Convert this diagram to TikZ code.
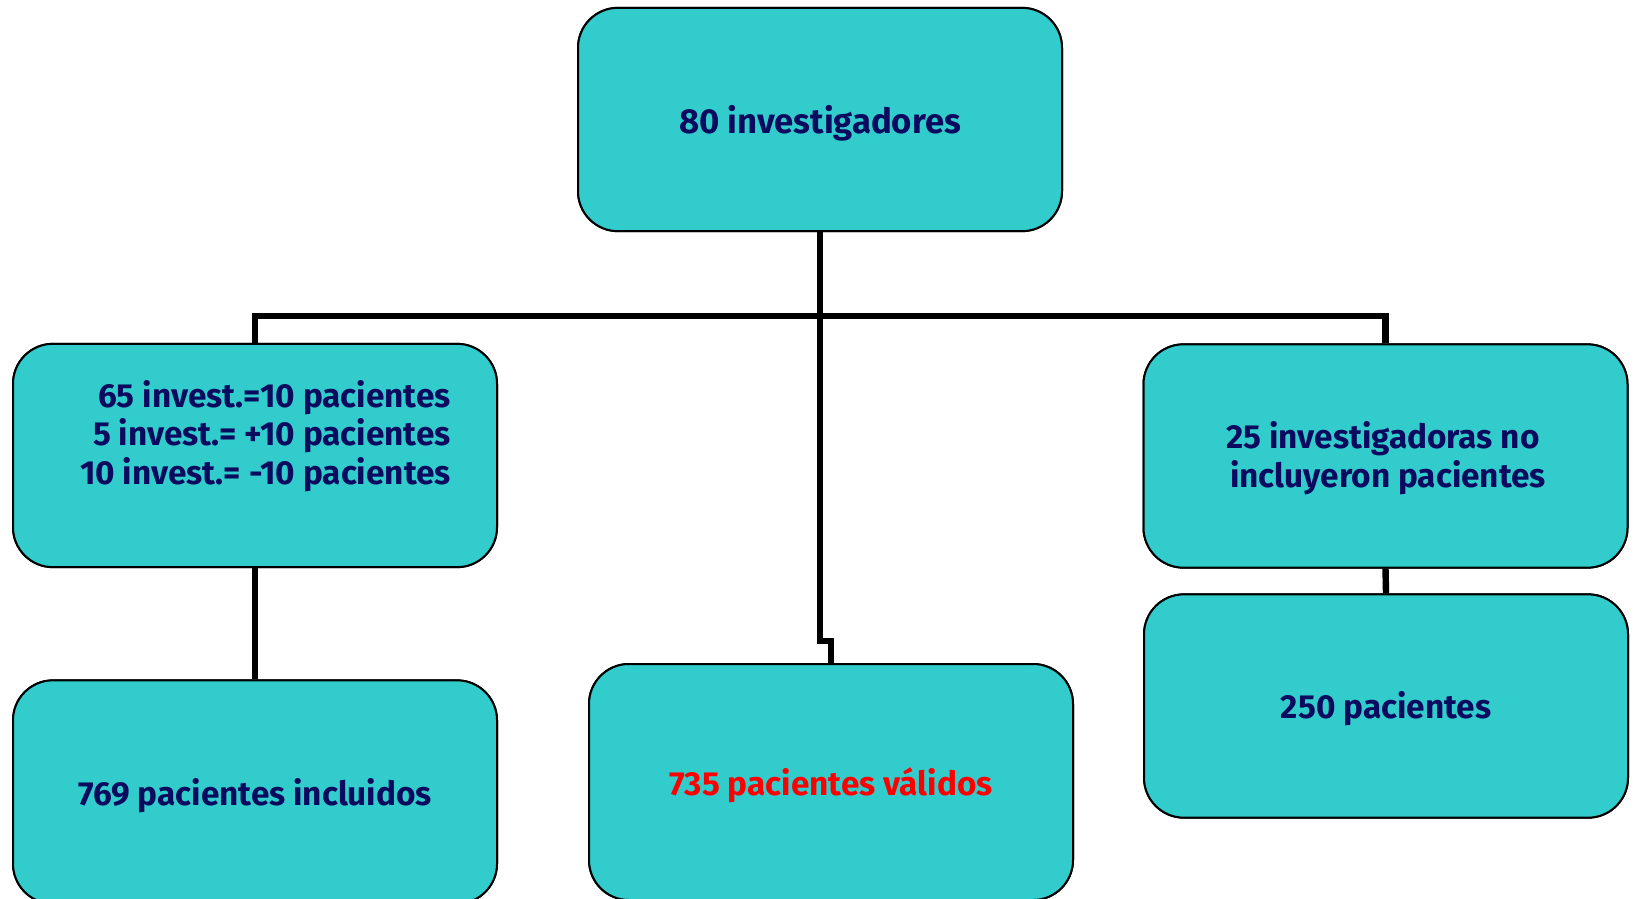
\documentclass[tikz,border=0pt]{standalone}
\usepackage{fontspec}
\setmainfont{Fira Sans}
\usetikzlibrary{calc}
\definecolor{boxfill}{RGB}{51,204,204}
\definecolor{navy}{RGB}{10,10,95}
\definecolor{redtxt}{RGB}{255,0,0}
\tikzset{
  box/.style={draw=black, line width=1.5pt, fill=boxfill, rounded corners=30pt,
    minimum width=363pt, minimum height=167.5pt, inner sep=0pt},
  conn/.style={draw=black, line width=4.8pt},
  txt/.style={font=\fontsize{25}{29}\selectfont\bfseries, text=navy, inner sep=0pt},
}
\begin{document}
\begin{tikzpicture}[x=0.75pt,y=-0.75pt]
\useasboundingbox (0,0) rectangle (1634,899);
\clip (0,0) rectangle (1634,899);
\fill[white] (0,0) rectangle (1634,899);
% boxes
\node[box] (top) at (820,119.5) {};
\node[box] (lm) at (255,455.5) {};
\node[box] (rm) at (1385.5,456) {};
\node[box] (rb) at (1386,706) {};
\node[box] (lb) at (255,792) {};
\node[box, minimum height=177pt] (mb) at (831,782) {};
% connectors
\coordinate (bus) at (820,316);
\coordinate (jog) at (820,641);
\draw[conn] (top.south) -- (bus);
\draw[conn] (lm.north) -- (lm.north |- bus) -- (rm.north |- bus) -- (rm.north);
\draw[conn, line join=miter] (bus) -- (jog) -- (jog -| mb.north) -- (mb.north);
\draw[conn] (lm.south) -- (lb.north);
\draw[conn] (rm.south) -- (rb.north);
% redraw boxes above connectors
\node[box] at (top) {};
\node[box] at (lm) {};
\node[box] at (rm) {};
\node[box] at (rb) {};
\node[box] at (lb) {};
\node[box, minimum height=177pt] at (mb) {};
% texts
\node[txt, font=\fontsize{26}{29}\selectfont\bfseries] (t1) at (820,123) {80 investigadores};
\node[txt, align=right, anchor=north east] (t2) at (451,380) {65 invest.=10 pacientes\\5 invest.= +10 pacientes\\10 invest.= -10 pacientes};
\node[txt, align=center] (t3) at (1383,458) {25 investigadoras no\\\hspace*{0.3em}incluyeron pacientes};
\node[txt] (t4) at (1386,709) {250 pacientes};
\node[txt] (t5) at (255,796) {769 pacientes incluidos};
\node[txt, text=redtxt] (t6) at (831,785) {735 pacientes válidos};
\end{tikzpicture}
\end{document}
